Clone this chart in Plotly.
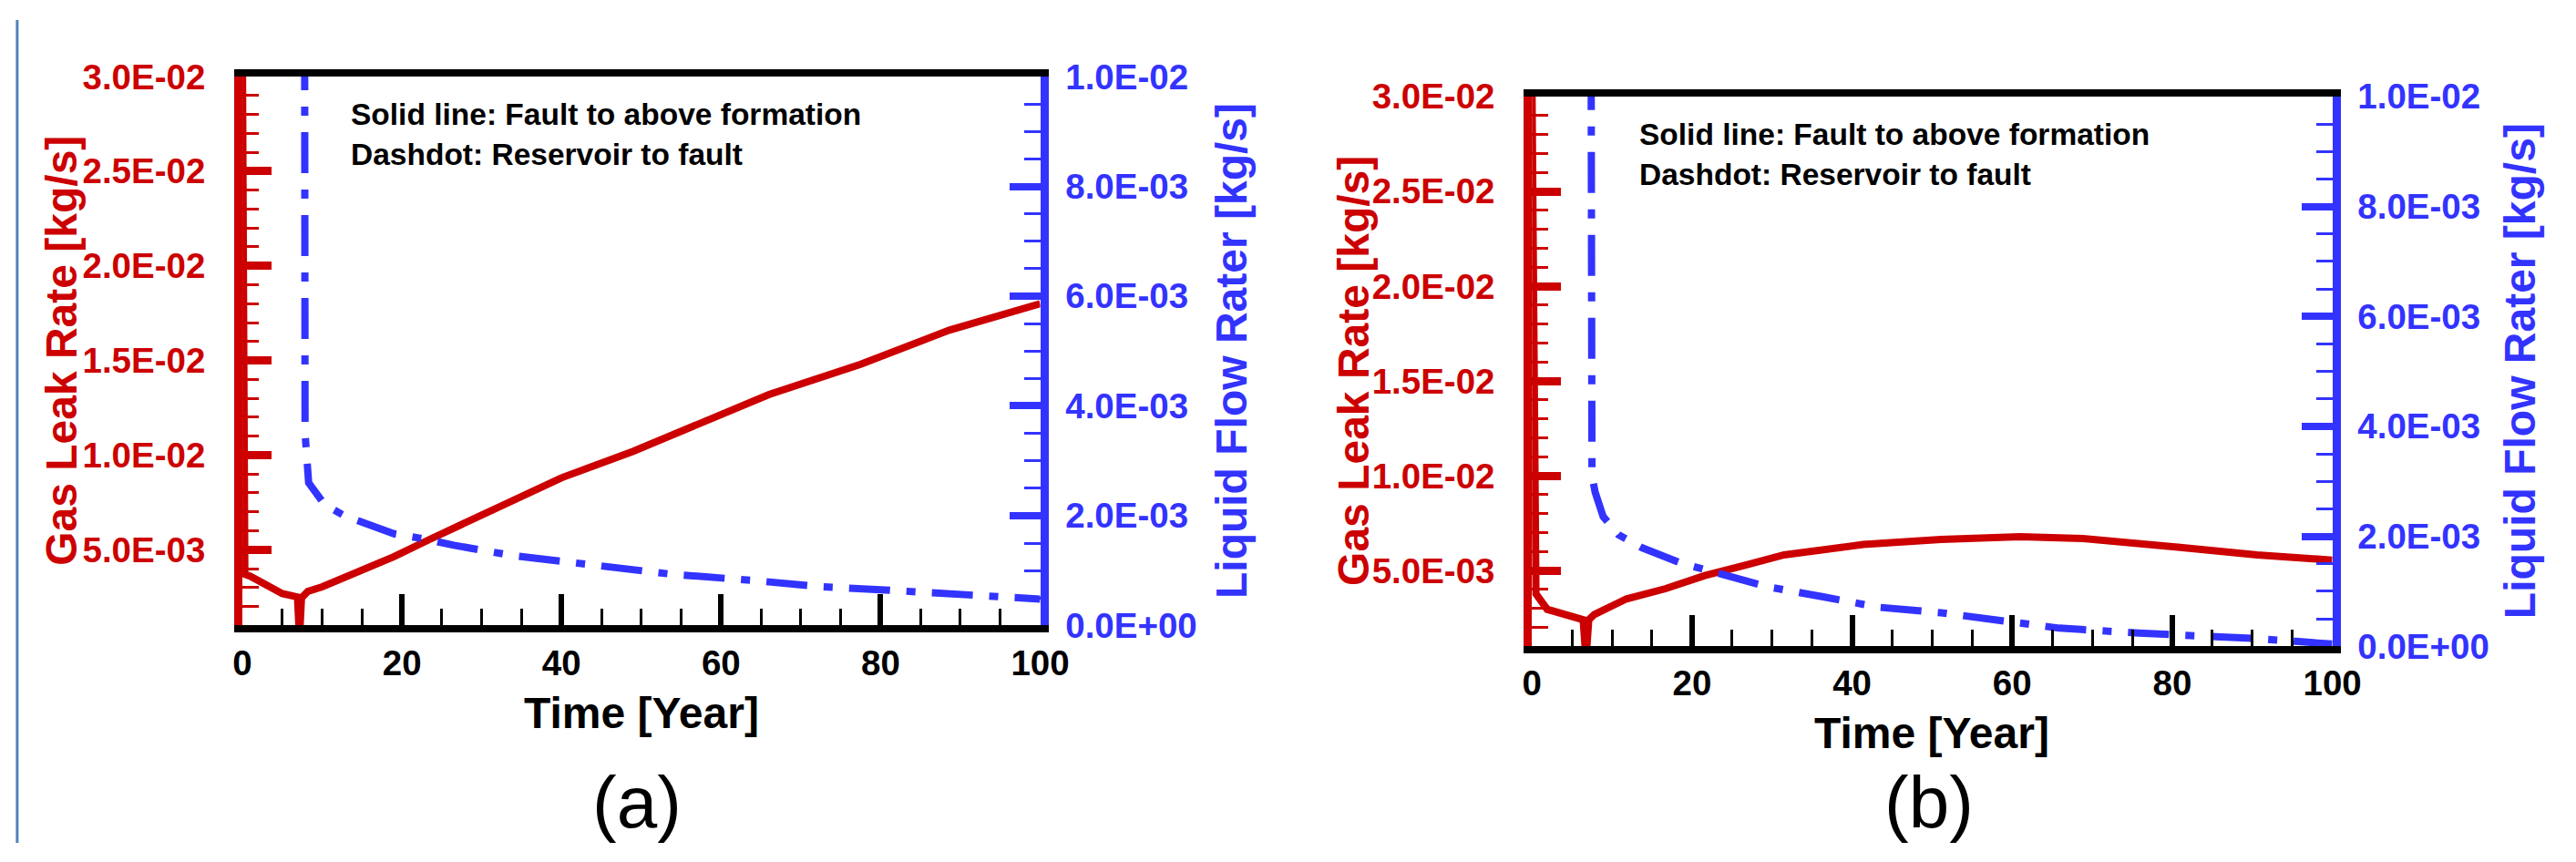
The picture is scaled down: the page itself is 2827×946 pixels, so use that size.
import plotly.graph_objects as go

W, H = 2827, 946

# ---------------- data ----------------
# Panel (a)
time_gas_a = [0, 0.3, 1, 3, 5, 6.9, 7.15, 7.4, 8.2, 10, 14, 19, 23.4, 29, 34, 40, 49, 57, 66, 77.5, 88.6, 100]
gas_a = [31.0e-3, 3.7e-3, 3.6e-3, 3.13e-3, 2.68e-3, 2.5e-3, 0.3e-3, 2.45e-3, 2.8e-3, 3.04e-3, 3.72e-3,
         4.63e-3, 5.53e-3, 6.62e-3, 7.53e-3, 8.8e-3, 10.2e-3, 11.6e-3, 13.2e-3, 14.8e-3, 16.6e-3, 18.0e-3]
time_liq_a = [7.8, 7.85, 8.3, 9.2, 10.3, 12.75, 16, 19, 23, 26.5, 34, 44, 54, 64, 72, 80, 90, 96, 100]
liq_a = [10.5e-3, 3.5e-3, 2.6e-3, 2.4e-3, 2.2e-3, 2.0e-3, 1.83e-3, 1.67e-3, 1.57e-3, 1.46e-3, 1.27e-3,
         1.09e-3, 0.93e-3, 0.82e-3, 0.71e-3, 0.65e-3, 0.58e-3, 0.52e-3, 0.48e-3]

# Panel (b)
time_gas_b = [0, 0.5, 1.9, 4.9, 6.4, 6.75, 7.1, 7.8, 11.8, 16.7, 21.6, 26.6, 31.5, 41.4, 51.1, 61, 68.8, 80.7, 90.6, 100]
gas_b = [31.0e-3, 3.77e-3, 2.95e-3, 2.54e-3, 2.4e-3, 0.3e-3, 2.4e-3, 2.68e-3, 3.5e-3, 4.04e-3, 4.73e-3,
         5.27e-3, 5.82e-3, 6.37e-3, 6.64e-3, 6.78e-3, 6.69e-3, 6.23e-3, 5.82e-3, 5.55e-3]
time_liq_b = [7.4, 7.5, 7.9, 8.9, 10.8, 13.8, 18.7, 23.7, 29.5, 36.4, 43.3, 51.1, 59, 65.9, 75.8, 85.6, 90.6, 95.4, 100]
liq_b = [10.5e-3, 3.1e-3, 2.8e-3, 2.36e-3, 2.03e-3, 1.79e-3, 1.51e-3, 1.32e-3, 1.08e-3, 0.9e-3, 0.71e-3,
         0.61e-3, 0.47e-3, 0.33e-3, 0.24e-3, 0.19e-3, 0.14e-3, 0.09e-3, 0.04e-3]

# ticks
x_tickvals = [0, 20, 40, 60, 80, 100]
x_ticktext = ["0", "20", "40", "60", "80", "100"]
gas_tickvals = [5e-3, 10e-3, 15e-3, 20e-3, 25e-3, 30e-3]
gas_ticktext = ["5.0E-03", "1.0E-02", "1.5E-02", "2.0E-02", "2.5E-02", "3.0E-02"]
liq_tickvals = [0, 2e-3, 4e-3, 6e-3, 8e-3, 10e-3]
liq_ticktext = ["0.0E+00", "2.0E-03", "4.0E-03", "6.0E-03", "8.0E-03", "1.0E-02"]

# ---------------- styling ----------------
RED = "#CC0000"
BLUE = "#3333FF"
FONT = "Liberation Sans, Arial, Helvetica, sans-serif"
TICKSIZE = 38.5
TITLESIZE = 48

panels = {
    "a": dict(x0=259, x1=1148, y0=65, y1=696),
    "b": dict(x0=1696, x1=2588, y0=88, y1=720),
}


def xd(p):
    return [p["x0"] / W, p["x1"] / W]


def yd(p):
    return [(H - p["y1"]) / H, (H - p["y0"]) / H]


fig = go.Figure()
dash = "45px,18px,10px,18px"

fig.add_trace(go.Scatter(x=time_liq_a, y=liq_a, mode="lines", xaxis="x", yaxis="y2",
                         line=dict(color=BLUE, width=8, dash=dash), showlegend=False))
fig.add_trace(go.Scatter(x=time_gas_a, y=gas_a, mode="lines", xaxis="x", yaxis="y",
                         line=dict(color=RED, width=8), showlegend=False))
fig.add_trace(go.Scatter(x=time_liq_b, y=liq_b, mode="lines", xaxis="x2", yaxis="y4",
                         line=dict(color=BLUE, width=8, dash=dash), showlegend=False))
fig.add_trace(go.Scatter(x=time_gas_b, y=gas_b, mode="lines", xaxis="x2", yaxis="y3",
                         line=dict(color=RED, width=8), showlegend=False))


def xaxis(p, anchor):
    return dict(domain=xd(p), range=[0, 100], anchor=anchor, showline=True, linecolor="black",
                linewidth=8, mirror=True, showgrid=False, zeroline=False,
                ticks="inside", ticklen=34, tickwidth=6, tickcolor="black",
                tickmode="array", tickvals=x_tickvals, ticktext=x_ticktext,
                tickfont=dict(family=FONT, size=TICKSIZE, color="black", weight="bold"),
                minor=dict(tickmode="linear", tick0=0, dtick=5, ticks="inside", ticklen=18,
                           tickwidth=3, tickcolor="black", showgrid=False))


def gasaxis(p, anchor):
    return dict(domain=yd(p), range=[1e-3, 30e-3], anchor=anchor, side="left",
                showline=True, linecolor=RED, linewidth=9, showgrid=False, zeroline=False,
                ticks="inside", ticklen=32, tickwidth=9, tickcolor=RED,
                tickmode="array", tickvals=gas_tickvals, ticktext=gas_ticktext, ticklabelstandoff=24,
                tickfont=dict(family=FONT, size=TICKSIZE, color=RED, weight="bold"),
                minor=dict(tickmode="linear", tick0=0, dtick=1e-3, ticks="inside", ticklen=18,
                           tickwidth=3, tickcolor=RED, showgrid=False))


def liqaxis(overlay, anchor):
    return dict(range=[0, 10e-3], anchor=anchor, overlaying=overlay, side="right",
                showline=True, linecolor=BLUE, linewidth=9, showgrid=False, zeroline=False,
                ticks="inside", ticklen=34, tickwidth=8, tickcolor=BLUE,
                tickmode="array", tickvals=liq_tickvals, ticktext=liq_ticktext, ticklabelstandoff=11,
                tickfont=dict(family=FONT, size=TICKSIZE, color=BLUE, weight="bold"),
                minor=dict(tickmode="linear", tick0=0, dtick=0.5e-3, ticks="inside", ticklen=18,
                           tickwidth=3, tickcolor=BLUE, showgrid=False))


pa, pb = panels["a"], panels["b"]
annotations = []


def ann(text, x, y, size, color="black", angle=0, xanchor="center", yanchor="middle", bold=True):
    annotations.append(dict(text=text, x=x / W, y=1 - y / H, xref="paper", yref="paper",
                            showarrow=False, textangle=angle, xanchor=xanchor, yanchor=yanchor,
                            align="left",
                            font=dict(family=FONT, size=size, color=color,
                                      weight="bold" if bold else "normal")))


# axis titles
ann("Gas Leak Rate [kg/s]", 58, 380, TITLESIZE, RED, angle=-90)
ann("Liquid Flow Rater [kg/s]", 1361, 380, TITLESIZE, BLUE, angle=-90)
ann("Time [Year]", 704, 797, TITLESIZE)
ann("Gas Leak Rate [kg/s]", 1497, 403, TITLESIZE, RED, angle=-90)
ann("Liquid Flow Rater [kg/s]", 2797, 403, TITLESIZE, BLUE, angle=-90)
ann("Time [Year]", 2142, 820, TITLESIZE)

# in-plot notes
note = "Solid line: Fault to above formation<br>Dashdot: Reservoir to fault"
ann(note, 378, 131, 33.5, xanchor="left")
ann(note, 1814, 155, 33.5, xanchor="left")

# panel labels
ann("(a)", 699, 899, 80, bold=False)
ann("(b)", 2139, 899, 80, bold=False)

fig.update_layout(
    width=W, height=H,
    margin=dict(l=0, r=0, t=0, b=0),
    paper_bgcolor="white", plot_bgcolor="white",
    font=dict(family=FONT),
    xaxis=xaxis(pa, "y"),
    yaxis=gasaxis(pa, "x"),
    yaxis2=liqaxis("y", "x"),
    xaxis2=xaxis(pb, "y3"),
    yaxis3=gasaxis(pb, "x2"),
    yaxis4=liqaxis("y3", "x2"),
    annotations=annotations,
    shapes=[dict(type="line", xref="paper", yref="paper", x0=8 / W, x1=8 / W, y0=0, y1=1,
                 line=dict(color="#4F81BD", width=3))],
)

fig.write_html("out.html", post_script="document.body.style.margin='0';",
               config={"displayModeBar": False})
